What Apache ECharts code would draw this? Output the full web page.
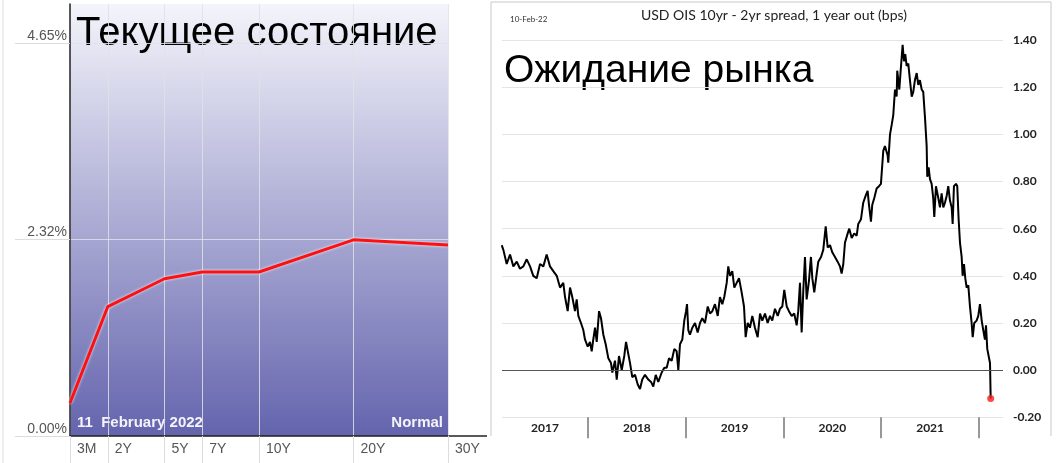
<!DOCTYPE html>
<html>
<head>
<meta charset="utf-8">
<script src="https://cdn.jsdelivr.net/npm/echarts@6/dist/echarts.min.js"></script>
<style>html,body{margin:0;padding:0;background:#fff;}#c{width:1059px;height:463px;}</style>
</head>
<body>
<div id="c"></div>
<script>
// ---- Left chart: US Treasury yield curve, 11 February 2022 ----
const tenors = ['3M', '2Y', '5Y', '7Y', '10Y', '20Y', '30Y'];
// compressed maturity scale used by the source chart's x axis
const tenorScale = [0, 2, 5, 7, 10, 15, 20];
const yields = [0.39, 1.53, 1.86, 1.94, 1.94, 2.32, 2.26];
const yieldTicks = [0, 2.325, 4.65];
const yieldTickLabels = ['0.00%', '2.32%', '4.65%'];

// ---- Right chart: USD OIS 10yr - 2yr spread, 1 year out ----
const spreadDates = [
2017.117,2017.134,2017.168,2017.202,2017.236,2017.271,2017.304,2017.338,2017.373,2017.407,
2017.440,2017.475,2017.509,2017.543,2017.577,2017.611,2017.645,2017.680,2017.714,2017.747,
2017.765,2017.792,2017.816,2017.839,2017.867,2017.884,2017.901,2017.928,2017.952,2017.969,
2017.997,2018.020,2018.038,2018.054,2018.072,2018.089,2018.113,2018.133,2018.157,2018.181,
2018.208,2018.235,2018.249,2018.276,2018.294,2018.317,2018.345,2018.371,2018.389,2018.430,
2018.453,2018.481,2018.508,2018.532,2018.555,2018.583,2018.617,2018.645,2018.668,2018.693,
2018.719,2018.754,2018.781,2018.805,2018.829,2018.856,2018.883,2018.907,2018.924,2018.941,
2018.965,2018.985,2019.003,2019.013,2019.026,2019.043,2019.067,2019.095,2019.122,2019.146,
2019.169,2019.197,2019.225,2019.248,2019.272,2019.299,2019.327,2019.350,2019.374,2019.394,
2019.419,2019.435,2019.453,2019.476,2019.497,2019.521,2019.545,2019.572,2019.596,2019.613,
2019.634,2019.657,2019.681,2019.708,2019.736,2019.760,2019.783,2019.811,2019.838,2019.862,
2019.885,2019.913,2019.941,2019.964,2019.988,2020.008,2020.033,2020.056,2020.084,2020.110,
2020.135,2020.151,2020.169,2020.186,2020.203,2020.220,2020.237,2020.261,2020.281,2020.295,
2020.315,2020.340,2020.356,2020.384,2020.407,2020.432,2020.452,2020.476,2020.499,2020.527,
2020.554,2020.578,2020.595,2020.612,2020.629,2020.657,2020.673,2020.698,2020.724,2020.749,
2020.765,2020.793,2020.816,2020.841,2020.861,2020.875,2020.895,2020.908,2020.929,2020.953,
2020.977,2020.997,2021.021,2021.038,2021.066,2021.072,2021.090,2021.107,2021.123,2021.141,
2021.158,2021.164,2021.185,2021.199,2021.219,2021.233,2021.246,2021.260,2021.277,2021.294,
2021.312,2021.328,2021.345,2021.363,2021.379,2021.396,2021.414,2021.430,2021.448,2021.465,
2021.471,2021.485,2021.499,2021.516,2021.532,2021.543,2021.560,2021.584,2021.601,2021.618,
2021.635,2021.652,2021.670,2021.686,2021.703,2021.721,2021.731,2021.744,2021.765,2021.778,
2021.792,2021.806,2021.823,2021.833,2021.847,2021.860,2021.874,2021.891,2021.908,2021.925,
2021.936,2021.952,2021.976,2021.993,2022.010,2022.028,2022.044,2022.061,2022.072,2022.085,
2022.099,2022.113,2022.120
];
const spreadValues = [
0.53,0.51,0.45,0.49,0.44,0.46,0.43,0.44,0.47,0.44,
0.40,0.39,0.45,0.44,0.49,0.44,0.42,0.40,0.35,0.37,
0.31,0.25,0.35,0.31,0.25,0.30,0.23,0.20,0.17,0.13,
0.10,0.12,0.08,0.13,0.18,0.12,0.25,0.22,0.15,0.11,
0.05,0.03,-0.01,0.04,-0.04,0.06,0.00,0.06,0.12,0.03,
-0.03,-0.02,-0.06,-0.08,-0.04,-0.02,-0.04,-0.05,-0.07,-0.02,
-0.05,-0.01,0.01,0.01,0.05,0.04,0.09,0.08,0.00,0.11,
0.13,0.21,0.25,0.28,0.17,0.15,0.18,0.20,0.16,0.20,
0.22,0.20,0.27,0.24,0.25,0.28,0.23,0.31,0.28,0.31,
0.37,0.44,0.40,0.42,0.35,0.37,0.39,0.33,0.27,0.14,
0.20,0.18,0.23,0.18,0.14,0.24,0.21,0.24,0.20,0.23,
0.21,0.26,0.23,0.26,0.27,0.34,0.27,0.25,0.23,0.24,
0.19,0.25,0.37,0.16,0.34,0.48,0.30,0.38,0.48,0.39,
0.33,0.41,0.46,0.48,0.51,0.61,0.52,0.53,0.50,0.48,
0.46,0.44,0.41,0.45,0.54,0.58,0.60,0.56,0.58,0.57,
0.62,0.64,0.71,0.74,0.76,0.70,0.63,0.70,0.73,0.77,
0.78,0.79,0.93,0.95,0.91,0.88,1.00,1.04,1.08,1.19,
1.16,1.27,1.19,1.27,1.38,1.31,1.34,1.29,1.30,1.23,
1.16,1.18,1.23,1.26,1.21,1.23,1.19,1.18,1.07,0.95,
0.82,0.86,0.81,0.79,0.73,0.65,0.78,0.73,0.69,0.75,
0.69,0.71,0.74,0.78,0.72,0.69,0.62,0.78,0.79,0.78,
0.64,0.54,0.48,0.40,0.45,0.39,0.35,0.36,0.27,0.20,
0.14,0.20,0.21,0.23,0.28,0.21,0.17,0.13,0.19,0.09,
0.06,0.03,-0.12
];
const yearTicks = [2018, 2019, 2020, 2021, 2022];
const yearLabelPos = [2017.56, 2018.5, 2019.5, 2020.5, 2021.5];
const yearLabels = ['2017', '2018', '2019', '2020', '2021'];

const curveData = tenorScale.map((p, i) => [p, yields[i]]);
const spreadData = spreadDates.map((d, i) => [d, spreadValues[i]]);
const lastIdx = spreadData.length - 1;

const chart = echarts.init(document.getElementById('c'), null, {renderer: 'canvas'});

const LS = '"Liberation Sans", Arial, sans-serif';
const CAL = 'Lato, "Open Sans", sans-serif';

const option = {
  animation: false,
  backgroundColor: '#ffffff',
  grid: [
    {
      left: 70, top: 4, width: 378, height: 432,
      show: true, borderWidth: 0,
      backgroundColor: new echarts.graphic.LinearGradient(0, 0, 0, 1, [
        {offset: 0, color: '#f4f4fb'},
        {offset: 1, color: '#6464ae'}
      ])
    },
    { left: 502, top: 40, width: 501, height: 377.3 }
  ],
  xAxis: [
    {
      gridIndex: 0, type: 'value', min: 0, max: 20,
      axisLine: {show: true, onZero: false, lineStyle: {color: '#222', width: 1.5}},
      axisTick: {show: true, customValues: tenorScale, length: 27, lineStyle: {color: '#dcdcdc', width: 1}},
      splitLine: {show: true, lineStyle: {color: 'rgba(225,225,230,0.85)', width: 1}},
      axisLabel: {
        customValues: tenorScale, align: 'left', margin: 6,
        padding: [0, 0, 0, 7],
        color: '#555', fontFamily: LS, fontSize: 14,
        formatter: v => tenors[tenorScale.indexOf(v)]
      }
    },
    {
      gridIndex: 1, type: 'value', min: 2017.12, max: 2022.246,
      axisLine: {show: false, onZero: false},
      axisTick: {show: true, customValues: yearTicks, length: 21, lineStyle: {color: '#777', width: 1.5}},
      splitLine: {show: false},
      axisLabel: {
        customValues: yearLabelPos, margin: 5,
        color: '#222', fontFamily: CAL, fontSize: 12, fontWeight: 'bold',
        formatter: v => yearLabels[yearLabelPos.indexOf(v)]
      }
    }
  ],
  yAxis: [
    {
      gridIndex: 0, type: 'value', min: 0, max: 5.11,
      axisLine: {show: true, onZero: false, lineStyle: {color: '#222', width: 1.5}},
      axisTick: {show: true, customValues: yieldTicks, length: 55, lineStyle: {color: '#dcdcdc', width: 1}},
      splitLine: {show: true, lineStyle: {color: 'rgba(225,225,230,0.85)', width: 1}},
      axisLabel: {
        customValues: yieldTicks, margin: 3, verticalAlign: 'bottom',
        color: '#555', fontFamily: LS, fontSize: 14,
        formatter: v => yieldTickLabels[yieldTicks.indexOf(v)]
      }
    },
    {
      gridIndex: 1, type: 'value', position: 'right', min: -0.2, max: 1.4, interval: 0.2,
      axisLine: {show: false, onZero: false}, axisTick: {show: false},
      splitLine: {show: true, lineStyle: {color: '#e4e4e4', width: 1}},
      axisLabel: {
        margin: 10, color: '#222', fontFamily: CAL, fontSize: 12, fontWeight: 'bold',
        formatter: v => v.toFixed(2)
      }
    }
  ],
  series: [
    {
      type: 'line', xAxisIndex: 0, yAxisIndex: 0, data: curveData,
      symbol: 'none', z: 4,
      lineStyle: {color: '#ff1010', width: 3, shadowColor: 'rgba(255,255,255,0.9)', shadowBlur: 3}
    },
    {
      type: 'line', xAxisIndex: 1, yAxisIndex: 1, data: spreadData,
      symbol: 'none', z: 3,
      lineStyle: {color: '#000', width: 2},
      markLine: {
        silent: true, symbol: 'none', label: {show: false},
        lineStyle: {color: '#555', width: 1, type: 'solid'},
        data: [{yAxis: 0}]
      }
    },
    {
      type: 'scatter', xAxisIndex: 1, yAxisIndex: 1, z: 5,
      data: [spreadData[lastIdx]], symbolSize: 7,
      itemStyle: {color: '#ff1a1a'}
    }
  ],
  graphic: [
    {type: 'line', shape: {x1: 3, y1: 0, x2: 3, y2: 463}, style: {stroke: '#eeeeee', lineWidth: 2}, silent: true},
    {type: 'line', shape: {x1: 448, y1: 436, x2: 487, y2: 436}, style: {stroke: '#222', lineWidth: 1.5}, silent: true},
    {type: 'polyline', shape: {points: [[491, 436], [491, 2], [1051, 2], [1051, 436]]}, style: {stroke: '#c8c8c8', lineWidth: 1, fill: null}, silent: true},
    {type: 'text', left: 76, top: 14, style: {text: 'Текущее состояние', font: '40px ' + LS, fill: '#000'}},
    {type: 'text', left: 504, top: 52, style: {text: 'Ожидание рынка', font: '39px ' + LS, fill: '#000'}},
    {type: 'text', left: 77, top: 415, style: {text: '11  February 2022', font: 'bold 15px ' + LS, fill: 'rgba(255,255,255,0.92)'}},
    {type: 'text', right: 616, top: 415, style: {text: 'Normal', font: 'bold 15px ' + LS, fill: 'rgba(255,255,255,0.92)'}},
    {type: 'text', x: 774, y: 15, style: {text: 'USD OIS 10yr - 2yr spread, 1 year out (bps)', font: '14px ' + CAL, fill: '#222', align: 'center', verticalAlign: 'middle'}},
    {type: 'text', x: 510, y: 19, style: {text: '10-Feb-22', font: '8px ' + CAL, fill: '#333', verticalAlign: 'middle'}}
  ]
};
chart.setOption(option);
</script>
</body>
</html>
